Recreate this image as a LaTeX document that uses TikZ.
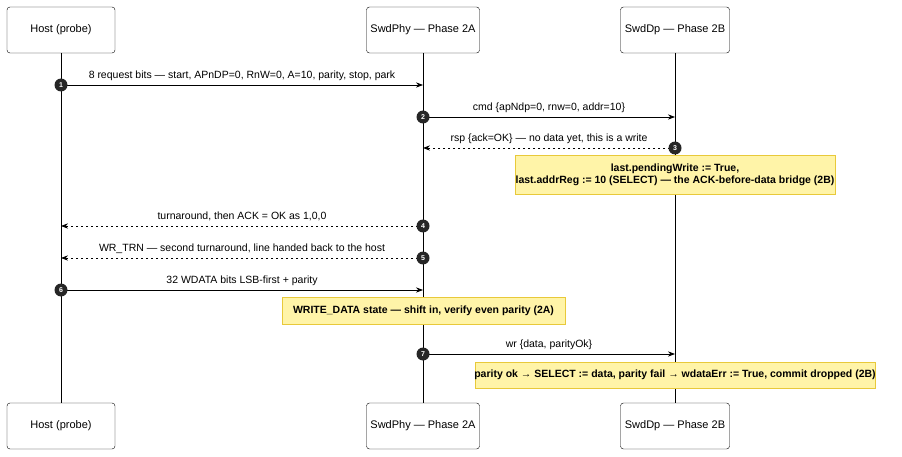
\documentclass[tikz,border=0pt]{standalone}
\usepackage{fontspec}
\setmainfont{Liberation Sans}
\usetikzlibrary{positioning,arrows.meta}

\definecolor{notefill}{HTML}{FFF4A8}
\definecolor{noteedge}{HTML}{E8C93A}

\tikzset{
  actor/.style={draw, rounded corners=3pt, minimum width=108pt, minimum height=46pt, font=\fontsize{11}{13}\selectfont},
  note/.style={draw=noteedge, fill=notefill, font=\bfseries\fontsize{10.5}{12.5}\selectfont, align=center, inner sep=1pt},
  msg/.style={-{Stealth[length=7pt]}, line width=0.8pt},
  reply/.style={msg, dash pattern=on 2.5pt off 2.5pt},
  num/.style={circle, fill=black!85, text=white, inner sep=0pt, minimum size=13pt, font=\bfseries\fontsize{7}{8}\selectfont},
  lbl/.style={font=\fontsize{10.5}{12.5}\selectfont, above=1pt}
}

\begin{document}
\begin{tikzpicture}[x=1pt, y=-1pt]
  \useasboundingbox (0,0) rectangle (902,457);

  % lifelines
  \draw[line width=0.8pt] (61,53) -- (61,403);
  \draw[line width=0.8pt] (423,53) -- (423,403);
  \draw[line width=0.8pt] (675,53) -- (675,403);

  % participants
  \node[actor] (host)  at (61,30)  {Host (probe)};
  \node[actor, minimum width=113pt] (phy) at (423,30) {SwdPhy — Phase 2A};
  \node[actor, minimum width=109pt] (dp)  at (675,30) {SwdDp — Phase 2B};
  \node[actor] (hostb) at (61,426) {Host (probe)};
  \node[actor, minimum width=113pt] (phyb) at (423,426) {SwdPhy — Phase 2A};
  \node[actor, minimum width=109pt] (dpb)  at (675,426) {SwdDp — Phase 2B};

  % messages
  \coordinate (h1) at (61,85);   \coordinate (p1) at (423,85);
  \coordinate (p2) at (423,117); \coordinate (d2) at (675,117);
  \coordinate (d3) at (675,148); \coordinate (p3) at (423,148);
  \coordinate (p4) at (423,226); \coordinate (h4) at (61,226);
  \coordinate (p5) at (423,258); \coordinate (h5) at (61,258);
  \coordinate (h6) at (61,290);  \coordinate (p6) at (423,290);
  \coordinate (p7) at (423,354); \coordinate (d7) at (675,354);

  \draw[msg] (h1) -- node[lbl] {8 request bits — start, APnDP=0, RnW=0, A=10, parity, stop, park} (p1);
  \draw[msg] (p2) -- node[lbl] {cmd \{apNdp=0, rnw=0, addr=10\}} (d2);
  \draw[reply] (d3) -- node[lbl] {rsp \{ack=OK\} — no data yet, this is a write} (p3);
  \draw[reply] (p4) -- node[lbl] {turnaround, then ACK = OK as 1,0,0} (h4);
  \draw[reply] (p5) -- node[lbl] {WR\_TRN — second turnaround, line handed back to the host} (h5);
  \draw[msg] (h6) -- node[lbl] {32 WDATA bits LSB-first + parity} (p6);
  \draw[msg] (p7) -- node[lbl] {wr \{data, parityOk\}} (d7);

  % notes
  \draw[draw=noteedge, fill=notefill] (515,155) rectangle (835,194);
  \node[note, draw=none, fill=none] (n1) at (675,175)
    {last.pendingWrite := True,\\last.addrReg := 10 (SELECT) — the ACK-before-data bridge (2B)};
  \draw[draw=noteedge, fill=notefill] (282,297) rectangle (565,324);
  \node[note, draw=none, fill=none] (n2) at (423.5,310.5)
    {WRITE\_DATA state — shift in, verify even parity (2A)};
  \draw[draw=noteedge, fill=notefill] (475,362) rectangle (875,388);
  \node[note, draw=none, fill=none] (n3) at (675,375)
    {parity ok → SELECT := data, parity fail → wdataErr := True, commit dropped (2B)};

  % step numbers
  \node[num] (s1) at (h1) {1};
  \node[num] (s2) at (p2) {2};
  \node[num] (s3) at (d3) {3};
  \node[num] (s4) at (p4) {4};
  \node[num] (s5) at (p5) {5};
  \node[num] (s6) at (h6) {6};
  \node[num] (s7) at (p7) {7};
\end{tikzpicture}
\end{document}
